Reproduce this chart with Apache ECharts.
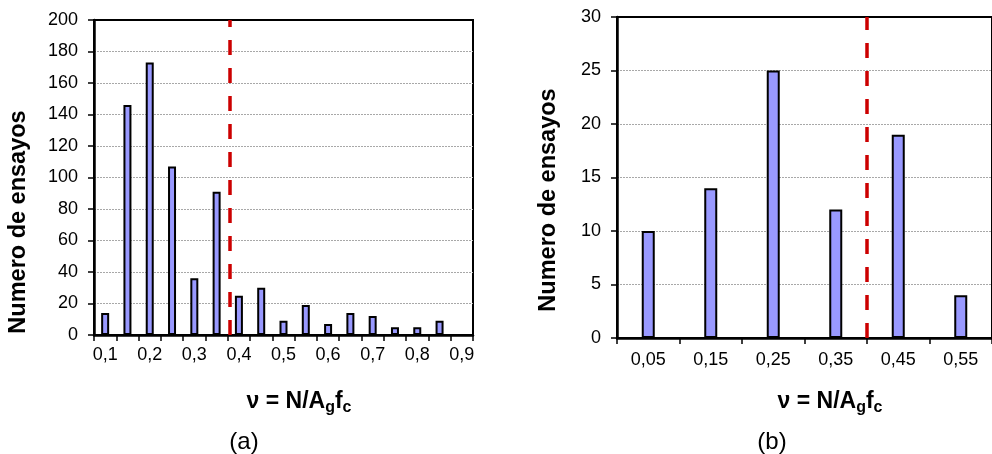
<!DOCTYPE html>
<html>
<head>
<meta charset="utf-8">
<script src="https://cdn.jsdelivr.net/npm/echarts@6/dist/echarts.min.js"></script>
<style>
html,body{margin:0;padding:0;background:#fff;}
#c{width:992px;height:454px;}
</style>
</head>
<body>
<div id="c"></div>
<script>
// Panel (a)
const catsA = ['0,1','0,15','0,2','0,25','0,3','0,35','0,4','0,45','0,5','0,55','0,6','0,65','0,7','0,75','0,8','0,85','0,9'];
const valsA = [14,146,173,107,36,91,25,30,9,19,7,14,12,5,5,9,null];
const limitA = 0.377;
const rangeA = [0.075, 0.925];
// Panel (b)
const catsB = ['0,05','0,15','0,25','0,35','0,45','0,55'];
const valsB = [10,14,25,12,19,4];
const limitB = 0.4;
const rangeB = [0, 0.6];
const yTicksA = {min:0, max:200, interval:20};
const yTicksB = {min:0, max:30, interval:5};

const FONT = 'Liberation Sans, Arial, sans-serif';
const barStyle = {color:'#9999ff', borderColor:'#000', borderWidth:2};
const gridLine = {show:true, showMaxLine:false, showMinLine:false, lineStyle:{color:'#a8a8a8', type:[2,1], width:1}};

const chart = echarts.init(document.getElementById('c'), null, {renderer:'canvas'});

function catAxis(gi, cats, labelInterval, margin) {
  return {
    type:'category', gridIndex:gi, data:cats,
    axisLine:{show:true, lineStyle:{color:'#000', width:2.5}},
    axisTick:{show:true, interval:0, length:6, inside:false, alignWithLabel:false, lineStyle:{color:'#000', width:1.5}},
    axisLabel:{interval:labelInterval, color:'#000', fontSize:18, fontFamily:FONT, margin:margin},
    splitLine:{show:false}
  };
}
function valAxisHidden(gi, range) {
  return {type:'value', gridIndex:gi, min:range[0], max:range[1], show:false,
    axisLine:{show:false}, axisTick:{show:false}, axisLabel:{show:false}, splitLine:{show:false}};
}
function yAxis(gi, t, margin) {
  return {
    type:'value', gridIndex:gi, min:t.min, max:t.max, interval:t.interval,
    axisLine:{show:true, lineStyle:{color:'#000', width:2.5}},
    axisTick:{show:true, length:6, lineStyle:{color:'#000', width:1.5}},
    axisLabel:{color:'#000', fontSize:18, fontFamily:FONT, margin:margin},
    splitLine:gridLine
  };
}
function limitSeries(xi, yi, v) {
  return {
    type:'line', xAxisIndex:xi, yAxisIndex:yi, data:[], silent:true,
    markLine:{silent:true, symbol:['none','none'], label:{show:false},
      lineStyle:{color:'#cc0000', width:3.5, type:[15,13]},
      data:[{xAxis:v}]}
  };
}

const option = {
  animation:false,
  backgroundColor:'#fff',
  grid:[
    {left:94, top:20, width:379, height:315, show:true, borderColor:'#000', borderWidth:2, backgroundColor:'transparent'},
    {left:617, top:17, width:384, height:321, show:true, borderColor:'#000', borderWidth:2, backgroundColor:'transparent'}
  ],
  xAxis:[
    catAxis(0, catsA, 1, 11),
    catAxis(1, catsB, 0, 13),
    valAxisHidden(0, rangeA),
    valAxisHidden(1, rangeB)
  ],
  yAxis:[
    yAxis(0, yTicksA, 16),
    yAxis(1, yTicksB, 16)
  ],
  series:[
    {type:'bar', xAxisIndex:0, yAxisIndex:0, data:valsA, barWidth:8, itemStyle:barStyle, z:2},
    {type:'bar', xAxisIndex:1, yAxisIndex:1, data:valsB, barWidth:13, itemStyle:barStyle, z:2},
    limitSeries(2, 0, limitA),
    limitSeries(3, 1, limitB)
  ],
  graphic:[
    {type:'text', x:19, y:222, rotation:Math.PI/2, z:10,
      style:{text:'Numero de ensayos', font:'bold 23.5px ' + FONT, fill:'#000', align:'center', verticalAlign:'middle'}},
    {type:'text', x:549, y:200, rotation:Math.PI/2, z:10,
      style:{text:'Numero de ensayos', font:'bold 23.5px ' + FONT, fill:'#000', align:'center', verticalAlign:'middle'}},
    {type:'text', x:299, y:390, z:10,
      style:{text:'{m|ν = N/A}{s|g}{m|f}{s|c}', align:'center', fill:'#000',
        rich:{m:{fontSize:23, fontWeight:'bold', fontFamily:FONT, lineHeight:26, verticalAlign:'top'},
              s:{fontSize:16, fontWeight:'bold', fontFamily:FONT, lineHeight:16, verticalAlign:'bottom'}}}},
    {type:'text', x:830, y:390, z:10,
      style:{text:'{m|ν = N/A}{s|g}{m|f}{s|c}', align:'center', fill:'#000',
        rich:{m:{fontSize:23, fontWeight:'bold', fontFamily:FONT, lineHeight:26, verticalAlign:'top'},
              s:{fontSize:16, fontWeight:'bold', fontFamily:FONT, lineHeight:16, verticalAlign:'bottom'}}}},
    {type:'text', x:244, y:442, z:10,
      style:{text:'(a)', font:'24px ' + FONT, fill:'#000', align:'center', verticalAlign:'middle'}},
    {type:'text', x:772, y:442, z:10,
      style:{text:'(b)', font:'24px ' + FONT, fill:'#000', align:'center', verticalAlign:'middle'}}
  ]
};
chart.setOption(option);
</script>
</body>
</html>
